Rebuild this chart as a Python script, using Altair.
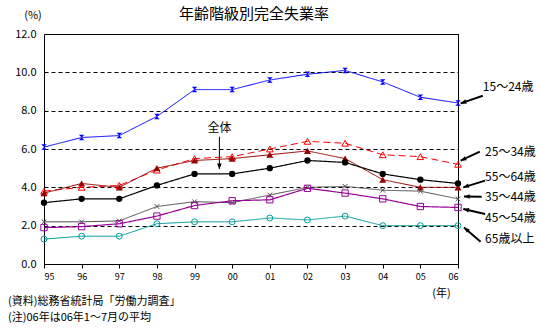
import math
import altair as alt
import pandas as pd

years = list(range(1995, 2007))
overall = [3.2, 3.4, 3.4, 4.1, 4.7, 4.7, 5.0, 5.4, 5.3, 4.7, 4.4, 4.2]
age15_24 = [6.1, 6.6, 6.7, 7.7, 9.1, 9.1, 9.6, 9.9, 10.1, 9.5, 8.7, 8.4]
age25_34 = [3.8, 4.0, 4.1, 4.9, 5.5, 5.6, 6.0, 6.4, 6.3, 5.7, 5.6, 5.2]
age35_44 = [2.2, 2.2, 2.25, 3.0, 3.25, 3.2, 3.6, 4.0, 4.05, 3.85, 3.8, 3.4]
age45_54 = [1.9, 1.95, 2.1, 2.5, 3.05, 3.3, 3.35, 3.95, 3.7, 3.4, 3.0, 2.95]
age55_64 = [3.7, 4.2, 4.0, 5.0, 5.4, 5.5, 5.7, 5.9, 5.5, 4.4, 4.0, 4.0]
age65 = [1.3, 1.45, 1.45, 2.1, 2.2, 2.2, 2.4, 2.3, 2.5, 2.0, 2.0, 2.0]
y_ticks = [0, 2, 4, 6, 8, 10, 12]

# label annotations (data units)
label_text = ["15～24歳", "25～34歳", "55～64歳", "35～44歳", "45～54歳", "65歳以上", "全体"]
label_x = [2006.66, 2006.72, 2006.72, 2006.72, 2006.72, 2006.72, 1999.66]
label_y = [9.25, 5.86, 4.52, 3.51, 2.38, 1.29, 7.11]
arrow_x1 = [2006.66, 2006.58, 2006.72, 2006.63, 2006.72, 2006.60, 1999.66]
arrow_y1 = [8.78, 5.86, 4.35, 3.51, 2.61, 1.16, 6.64]
arrow_x2 = [2006.07, 2006.07, 2006.14, 2006.16, 2006.14, 2006.16, 1999.66]
arrow_y2 = [8.38, 5.39, 4.00, 3.52, 2.87, 1.91, 4.95]
arrow_w = [2, 2, 2, 2, 2, 2, 1]

title_text = "年齢階級別完全失業率"
notes = ["(資料)総務省統計局「労働力調査」", "(注)06年は06年1～7月の平均"]

W, H = 414, 230
XMIN, XMAX, YMIN, YMAX = 1995, 2006, 0, 12
FONT = "Noto Sans CJK JP"

xs = alt.Scale(domain=[XMIN, XMAX], nice=False, zero=False)
ys = alt.Scale(domain=[YMIN, YMAX], nice=False)

ax_x = alt.Axis(values=years, labelExpr="substring(toString(datum.value), 2)",
                grid=False, ticks=True, tickSize=4, tickColor="black",
                domain=True, domainColor="black", labelFontSize=9,
                labelOverlap=False, labelBound=False,
                labelPadding=4, labelColor="black", labelFont=FONT,
                title="(年)", titleFontSize=11, titleFontWeight="normal",
                titleX=397, titleY=29, titleAlign="center",
                titleBaseline="middle", titleFont=FONT, titleColor="black")
ax_y = alt.Axis(values=y_ticks, format=".1f", grid=True,
                gridDash=[4, 3], gridColor="black", gridWidth=1,
                ticks=False, domain=False, labelFontSize=11,
                labelOverlap=False,
                labelPadding=8, labelColor="black", labelFont=FONT,
                title="")


def X(f):
    return alt.X(f, scale=xs, axis=ax_x)


def Y(f):
    return alt.Y(f, scale=ys, axis=ax_y)


series = [
    ("15～24歳", age15_24, "#0000FF", [], "M-1,-1L1,-1L0,0ZM-1,1L1,1L0,0Z", True, 30, 1),
    ("25～34歳", age25_34, "#FF0000", [7, 4], "triangle-up", False, 45, 1),
    ("55～64歳", age55_64, "#990000", [], "triangle-up", True, 50, 1),
    ("全体", overall, "#000000", [], "circle", True, 40, 1.2),
    ("35～44歳", age35_44, "#505050", [], "M-1,-1L1,1M-1,1L1,-1", False, 22, 1),
    ("45～54歳", age45_54, "#990099", [], "square", False, 40, 1.2),
    ("65歳以上", age65, "#009999", [], "circle", False, 35, 1),
]

layers = []
for name, vals, color, dash, shape, filled, size, sw in series:
    df = pd.DataFrame({"year": years, "value": vals})
    line = alt.Chart(df).mark_line(color=color, strokeWidth=sw,
                                   strokeDash=dash if dash else [1, 0]).encode(
        x=X("year:Q"), y=Y("value:Q"))
    pt = alt.Chart(df).mark_point(shape=shape, filled=filled, color=color, size=size,
                                  strokeWidth=1, opacity=1).encode(
        x=X("year:Q"), y=Y("value:Q"))
    layers += [line, pt]

# arrows
angles = []
for x1, y1, x2, y2 in zip(arrow_x1, arrow_y1, arrow_x2, arrow_y2):
    dx = (x2 - x1) * W / (XMAX - XMIN)
    dy = -(y2 - y1) * H / (YMAX - YMIN)
    angles.append(math.degrees(math.atan2(dx, -dy)) % 360)

adf = pd.DataFrame({"year": arrow_x1, "value": arrow_y1, "x2": arrow_x2, "y2": arrow_y2,
                    "w": arrow_w, "angle": angles})
arrows = alt.Chart(adf).mark_rule(color="black").encode(
    x=X("year:Q"), y=Y("value:Q"),
    x2="x2:Q", y2="y2:Q", strokeWidth=alt.StrokeWidth("w:Q", scale=None))
hdf = pd.DataFrame({"year": arrow_x2, "value": arrow_y2, "angle": angles})
heads = alt.Chart(hdf).mark_point(shape="M0,0L-0.4,1L0.4,1Z", filled=True, color="black",
                                  size=130, opacity=1).encode(
    x=X("year:Q"), y=Y("value:Q"),
    angle=alt.Angle("angle:Q", scale=None))

ldf = pd.DataFrame({"year": label_x, "value": label_y, "t": label_text})
labels_right = alt.Chart(ldf.iloc[:6]).mark_text(align="left", baseline="middle",
                                                 fontSize=12, font=FONT, color="black").encode(
    x=X("year:Q"), y=Y("value:Q"), text="t:N")
label_all = alt.Chart(ldf.iloc[6:]).mark_text(align="center", baseline="middle",
                                              fontSize=12, font=FONT, color="black").encode(
    x=X("year:Q"), y=Y("value:Q"), text="t:N")


def free_text(t, x, y, size, align="left"):
    return alt.Chart(pd.DataFrame({"t": [t]})).mark_text(
        align=align, baseline="middle", fontSize=size, font=FONT, color="black").encode(
        x=alt.value(x), y=alt.value(y), text="t:N")


title = free_text(title_text, 210, -20, 15, "center")
pct = free_text("(%)", -11, -18, 11, "center")
note1 = free_text(notes[0], -36, 268, 11)
note2 = free_text(notes[1], -36, 284, 11)

chart = alt.layer(*layers, arrows, heads, labels_right, label_all,
                  title, pct, note1, note2).properties(
    width=W, height=H,
    autosize=alt.AutoSizeParams(type="none"),
    padding={"left": 44, "top": 34, "right": 82, "bottom": 64},
    background="white",
).configure_view(stroke="black", strokeWidth=1)

chart.save("out.html", embed_options={"renderer": "svg", "actions": False})
